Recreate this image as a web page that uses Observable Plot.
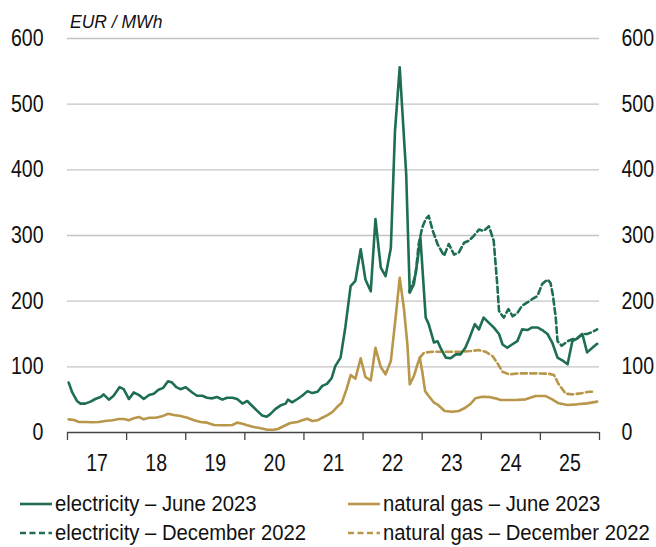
<!DOCTYPE html>
<html>
<head>
<meta charset="utf-8">
<script src="https://cdn.jsdelivr.net/npm/d3@7"></script>
<script src="https://cdn.jsdelivr.net/npm/@observablehq/plot@0.6"></script>
<style>
  body { margin: 0; background: #fff; font-family: "Liberation Sans", Arial, sans-serif; }
  #wrap { position: relative; width: 656px; height: 547px; overflow: hidden; }
  #unit { position: absolute; left: 70px; top: 12px; font-size: 17.5px; font-style: italic; color: #111; }
  .leg { position: absolute; display: flex; align-items: center; font-size: 22.5px; color: #111; white-space: nowrap; }
  .leg svg { margin-right: 3px; flex: none; }
  .leg span { display: inline-block; transform: scaleX(0.9); transform-origin: left center; }
</style>
</head>
<body>
<div id="wrap">
  <div id="chart"></div>
  <div id="unit">EUR / MWh</div>
  <div id="legend"></div>
</div>
<script>
// ---- data (decimal year, EUR/MWh) ----
const elecJuneDates = [2017.02,2017.08,2017.16,2017.22,2017.30,2017.39,2017.47,2017.56,2017.61,2017.70,2017.78,2017.88,2017.95,2018.04,2018.12,2018.21,2018.29,2018.38,2018.46,2018.54,2018.62,2018.70,2018.77,2018.84,2018.91,2019.00,2019.11,2019.19,2019.28,2019.36,2019.45,2019.53,2019.62,2019.70,2019.79,2019.87,2019.96,2020.04,2020.13,2020.21,2020.29,2020.37,2020.43,2020.52,2020.60,2020.69,2020.73,2020.80,2020.89,2020.97,2021.06,2021.14,2021.23,2021.31,2021.39,2021.47,2021.53,2021.62,2021.70,2021.79,2021.87,2021.96,2022.04,2022.13,2022.21,2022.30,2022.38,2022.47,2022.54,2022.62,2022.73,2022.79,2022.86,2022.92,2022.97,2023.06,2023.11,2023.20,2023.26,2023.31,2023.40,2023.48,2023.57,2023.65,2023.73,2023.80,2023.89,2023.96,2024.04,2024.13,2024.21,2024.30,2024.36,2024.44,2024.52,2024.61,2024.69,2024.78,2024.86,2024.95,2025.03,2025.12,2025.20,2025.29,2025.37,2025.46,2025.54,2025.62,2025.71,2025.79,2025.88,2025.96];
const elecJuneValues = [76,61,48,44,44,47,51,54,58,50,56,69,66,51,61,57,51,57,59,65,68,78,76,69,66,69,61,56,56,53,52,54,50,53,53,51,44,48,40,33,26,24,28,36,41,44,50,46,51,56,63,60,62,71,74,83,101,114,160,223,231,279,233,215,325,251,238,281,459,556,393,213,226,261,297,175,165,137,139,129,114,113,119,119,129,144,165,157,175,167,160,150,134,129,134,139,157,156,160,160,156,150,137,114,110,104,139,143,150,122,129,135];

const elecDecDates = [2022.78,2022.84,2022.89,2022.94,2023.00,2023.06,2023.11,2023.18,2023.26,2023.37,2023.45,2023.54,2023.62,2023.71,2023.79,2023.87,2023.96,2024.04,2024.13,2024.21,2024.27,2024.30,2024.38,2024.46,2024.53,2024.61,2024.69,2024.78,2024.86,2024.95,2025.03,2025.12,2025.17,2025.21,2025.26,2025.29,2025.36,2025.46,2025.54,2025.62,2025.71,2025.79,2025.88,2025.96];
const elecDecValues = [215,226,241,286,312,325,330,307,287,269,287,271,274,289,292,299,309,307,314,292,226,185,175,188,177,182,193,198,203,208,226,233,228,210,175,139,132,139,142,143,150,150,153,157];

const gasJuneDates = [2017.02,2017.11,2017.19,2017.30,2017.42,2017.53,2017.64,2017.76,2017.87,2017.95,2018.04,2018.12,2018.21,2018.29,2018.38,2018.49,2018.60,2018.70,2018.80,2018.91,2019.03,2019.14,2019.25,2019.36,2019.48,2019.59,2019.70,2019.79,2019.87,2019.96,2020.04,2020.15,2020.27,2020.38,2020.49,2020.56,2020.66,2020.77,2020.89,2020.97,2021.06,2021.14,2021.23,2021.31,2021.39,2021.48,2021.56,2021.64,2021.72,2021.79,2021.87,2021.96,2022.04,2022.13,2022.21,2022.30,2022.38,2022.47,2022.55,2022.62,2022.69,2022.75,2022.79,2022.86,2022.92,2022.96,2023.00,2023.05,2023.11,2023.20,2023.27,2023.38,2023.51,2023.62,2023.73,2023.82,2023.90,2024.02,2024.13,2024.24,2024.33,2024.41,2024.58,2024.75,2024.92,2025.09,2025.20,2025.31,2025.46,2025.62,2025.79,2025.96];
const gasJuneValues = [20,19,16,16,15.5,16,17.5,18.6,20.5,20.5,18.6,21.6,23.6,20,22.5,22.5,24.6,28.6,26.6,25,22.5,18.6,16,15,11.4,11,11,11.4,15,13.4,11,8.4,6.4,4.3,4.3,5.3,9.9,14.5,16,18.6,21,17.5,18.6,22.5,26,31,38.8,45.4,65.7,87.5,82,113,84.5,79.4,129,99.7,88.6,108.8,174.7,235.6,190,134,73.4,86,103.8,114,93.6,63,55.5,45.4,41.9,32.7,31.7,32.7,37.7,43.8,52,54.5,54,52,49.5,49.5,49.5,50.5,55.5,55.5,50.5,44.4,41.9,42.9,44.4,47];

const gasDecDates = [2022.96,2023.03,2023.17,2023.34,2023.51,2023.68,2023.82,2023.96,2024.07,2024.19,2024.27,2024.36,2024.47,2024.64,2024.81,2024.97,2025.14,2025.23,2025.31,2025.43,2025.54,2025.68,2025.82,2025.93];
const gasDecValues = [114,121.5,123,123,123,123,124,125.6,123,116.4,106,92.5,88.6,90,90,90,89.5,87.5,73.4,59,58,59.6,62,62];

const yearBoundaries = [2017,2018,2019,2020,2021,2022,2023,2024,2025,2026];
const yearLabels = ["17","18","19","20","21","22","23","24","25"];
const yTicks = [0,100,200,300,400,500,600];

const seriesNames = ["electricity – June 2023","natural gas – June 2023","electricity – December 2022","natural gas – December 2022"];

// ---- build tables ----
const zip = (ds, vs) => ds.map((d, i) => ({t: d, v: vs[i]}));
const elecJune = zip(elecJuneDates, elecJuneValues);
const elecDec = zip(elecDecDates, elecDecValues);
const gasJune = zip(gasJuneDates, gasJuneValues);
const gasDec = zip(gasDecDates, gasDecValues);
const labelPos = yearLabels.map((l, i) => yearBoundaries[i] + 0.5);

const GREEN = "#1e6e52";
const GOLD = "#b8964a";
const DASH = "6,3.5";
const FS = 23;

const H = 485;
const chart = Plot.plot({
  width: 656,
  height: H,
  marginLeft: 67,
  marginRight: 57,
  marginTop: 38,
  marginBottom: H - 432,
  style: {fontFamily: "'Liberation Sans', Arial, sans-serif", fontSize: FS + "px", color: "#111", background: "#fff"},
  x: {domain: [2017, 2026]},
  y: {domain: [0, 600]},
  marks: [
    Plot.ruleY(yTicks.filter(d => d > 0), {stroke: "#c4c4c4", strokeWidth: 1.3}),
    Plot.axisY({anchor: "left", ticks: yTicks, tickSize: 0, tickPadding: 24, fontSize: FS, label: null}),
    Plot.axisY({anchor: "right", ticks: yTicks, tickSize: 0, tickPadding: 22, fontSize: FS, label: null}),
    Plot.axisX({ticks: yearBoundaries, tickSize: 8, tickFormat: () => "", label: null, stroke: "#444", strokeWidth: 1.3}),
    Plot.axisX({ticks: labelPos, tickSize: 0, tickPadding: 22, tickFormat: (d, i) => yearLabels[i], fontSize: FS, label: null}),
    Plot.ruleY([0], {stroke: "#444", strokeWidth: 1.3}),
    Plot.line(gasDec, {x: "t", y: "v", stroke: GOLD, strokeWidth: 2.6, strokeDasharray: DASH}),
    Plot.line(gasJune, {x: "t", y: "v", stroke: GOLD, strokeWidth: 2.6}),
    Plot.line(elecDec, {x: "t", y: "v", stroke: GREEN, strokeWidth: 2.6, strokeDasharray: DASH}),
    Plot.line(elecJune, {x: "t", y: "v", stroke: GREEN, strokeWidth: 2.6})
  ]
});
// condense tick label glyphs horizontally (reference uses a narrow face)
for (const t of chart.querySelectorAll("text")) {
  let tr = t.getAttribute("transform") || "";
  const x = t.getAttribute("x");
  if (x !== null && isFinite(+x)) {
    tr = `translate(${+x},0) ` + tr;
    t.removeAttribute("x");
  }
  t.setAttribute("transform", (tr + " scale(0.85,1)").trim());
}
document.getElementById("chart").appendChild(chart);

// ---- legend ----
const legendItems = [
  {name: seriesNames[0], color: GREEN, dash: null, left: 20, top: 504},
  {name: seriesNames[1], color: GOLD, dash: null, left: 348, top: 504},
  {name: seriesNames[2], color: GREEN, dash: DASH, left: 20, top: 533},
  {name: seriesNames[3], color: GOLD, dash: DASH, left: 348, top: 533}
];
const leg = document.getElementById("legend");
for (const it of legendItems) {
  const div = document.createElement("div");
  div.className = "leg";
  div.style.left = it.left + "px";
  div.style.top = (it.top - 14) + "px";
  div.style.height = "28px";
  div.innerHTML = `<svg width="32" height="10"><line x1="0" x2="32" y1="5" y2="5" stroke="${it.color}" stroke-width="2.6" ${it.dash ? `stroke-dasharray="${it.dash}"` : ""}/></svg><span>${it.name}</span>`;
  leg.appendChild(div);
}
</script>
</body>
</html>
